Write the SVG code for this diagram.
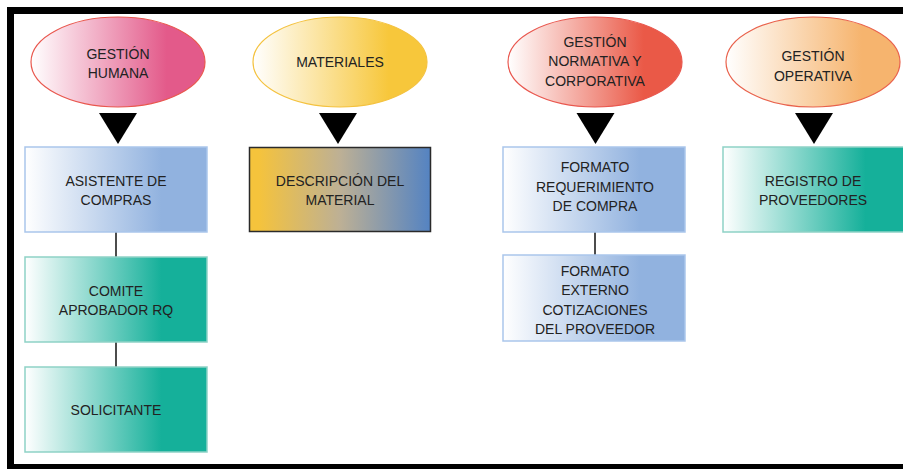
<svg xmlns="http://www.w3.org/2000/svg" width="903" height="469" viewBox="0 0 903 469">
  <defs>
    <linearGradient id="gPink" x1="0" y1="0" x2="1" y2="0">
      <stop offset="0" stop-color="#ffffff"/>
      <stop offset="0.78" stop-color="#E35A8A"/>
    </linearGradient>
    <linearGradient id="gYellow" x1="0" y1="0" x2="1" y2="0">
      <stop offset="0" stop-color="#ffffff"/>
      <stop offset="0.78" stop-color="#F7C73B"/>
    </linearGradient>
    <linearGradient id="gRed" x1="0" y1="0" x2="1" y2="0">
      <stop offset="0" stop-color="#ffffff"/>
      <stop offset="0.78" stop-color="#EA5947"/>
    </linearGradient>
    <linearGradient id="gOrange" x1="0" y1="0" x2="1" y2="0">
      <stop offset="0" stop-color="#ffffff"/>
      <stop offset="0.78" stop-color="#F6B46E"/>
    </linearGradient>
    <linearGradient id="gBlue" x1="0" y1="0" x2="1" y2="0">
      <stop offset="0" stop-color="#ffffff"/>
      <stop offset="0.75" stop-color="#91B2DF"/>
    </linearGradient>
    <linearGradient id="gTeal" x1="0" y1="0" x2="1" y2="0">
      <stop offset="0" stop-color="#ffffff"/>
      <stop offset="0.75" stop-color="#15B09A"/>
    </linearGradient>
    <linearGradient id="gMat" x1="0" y1="0" x2="1" y2="0">
      <stop offset="0.05" stop-color="#F5C33C"/>
      <stop offset="0.5" stop-color="#BDB095"/>
      <stop offset="1" stop-color="#5483C2"/>
    </linearGradient>
    <polygon id="tri" points="-19,0 19,0 0,31" fill="#000"/>
  </defs>
  <style>
    text { font-family: "Liberation Sans", Arial, sans-serif; font-size: 14px; fill: #222; text-anchor: middle; }
    .conn line { stroke: #111; stroke-width: 1.5; }
    .bx-blue { fill: url(#gBlue); stroke: #AAC6EB; stroke-width: 1.5; }
    .bx-teal { fill: url(#gTeal); stroke: #8ED2C6; stroke-width: 1.5; }
    .bx-mat { fill: url(#gMat); stroke: #2a2a2a; stroke-width: 1.5; }
  </style>

  <rect width="903" height="469" fill="#fff"/>
  <!-- outer frame -->
  <rect x="10.5" y="10.5" width="900" height="457" fill="none" stroke="#000" stroke-width="7"/>

  <!-- connectors -->
  <g class="conn">
    <line x1="116" y1="232" x2="116" y2="257"/>
    <line x1="116" y1="342" x2="116" y2="367"/>
    <line x1="595" y1="232" x2="595" y2="255"/>
    <use href="#tri" x="118" y="113"/>
    <use href="#tri" x="338" y="113"/>
    <use href="#tri" x="595.5" y="113"/>
    <use href="#tri" x="814" y="113"/>
  </g>

  <!-- area headers -->
  <g id="gestion-humana">
    <ellipse cx="118" cy="62" rx="87" ry="45" fill="url(#gPink)" stroke="#E9574E" stroke-width="1.2"/>
    <text x="118" y="58.5">GESTIÓN</text>
    <text x="118" y="78">HUMANA</text>
  </g>
  <g id="materiales">
    <ellipse cx="340" cy="62" rx="87" ry="45" fill="url(#gYellow)" stroke="#F4C23F" stroke-width="1.2"/>
    <text x="340" y="66.5">MATERIALES</text>
  </g>
  <g id="gestion-normativa">
    <ellipse cx="595" cy="62" rx="87" ry="45" fill="url(#gRed)" stroke="#E9574E" stroke-width="1.2"/>
    <text x="595" y="46.5">GESTIÓN</text>
    <text x="595" y="66">NORMATIVA Y</text>
    <text x="595" y="85.5">CORPORATIVA</text>
  </g>
  <g id="gestion-operativa">
    <ellipse cx="813" cy="62" rx="87" ry="45" fill="url(#gOrange)" stroke="#E9624C" stroke-width="1.2"/>
    <text x="813" y="61">GESTIÓN</text>
    <text x="813" y="80.5">OPERATIVA</text>
  </g>

  <!-- boxes -->
  <g id="asistente-compras">
    <rect class="bx-blue" x="25" y="147" width="182" height="85"/>
    <text x="116" y="185.7">ASISTENTE DE</text>
    <text x="116" y="205.2">COMPRAS</text>
  </g>
  <g id="comite-aprobador">
    <rect class="bx-teal" x="25" y="257" width="182" height="85"/>
    <text x="116" y="295.7">COMITE</text>
    <text x="116" y="315.2">APROBADOR RQ</text>
  </g>
  <g id="solicitante">
    <rect class="bx-teal" x="25" y="367" width="182" height="85"/>
    <text x="116" y="415">SOLICITANTE</text>
  </g>
  <g id="descripcion-material">
    <rect class="bx-mat" x="249.5" y="147.5" width="181" height="84"/>
    <text x="340" y="185.7">DESCRIPCIÓN DEL</text>
    <text x="340" y="205.2">MATERIAL</text>
  </g>
  <g id="formato-requerimiento">
    <rect class="bx-blue" x="503" y="147" width="182" height="85"/>
    <text x="595" y="172.3">FORMATO</text>
    <text x="595" y="191.7">REQUERIMIENTO</text>
    <text x="595" y="211.1">DE COMPRA</text>
  </g>
  <g id="formato-externo">
    <rect class="bx-blue" x="503" y="255" width="182" height="86"/>
    <text x="595" y="275.7">FORMATO</text>
    <text x="595" y="295.2">EXTERNO</text>
    <text x="595" y="314.7">COTIZACIONES</text>
    <text x="595" y="334.2">DEL PROVEEDOR</text>
  </g>
  <g id="registro-proveedores">
    <rect class="bx-teal" x="723" y="147" width="190" height="85"/>
    <text x="813" y="185.7">REGISTRO DE</text>
    <text x="813" y="205.2">PROVEEDORES</text>
  </g>
</svg>
